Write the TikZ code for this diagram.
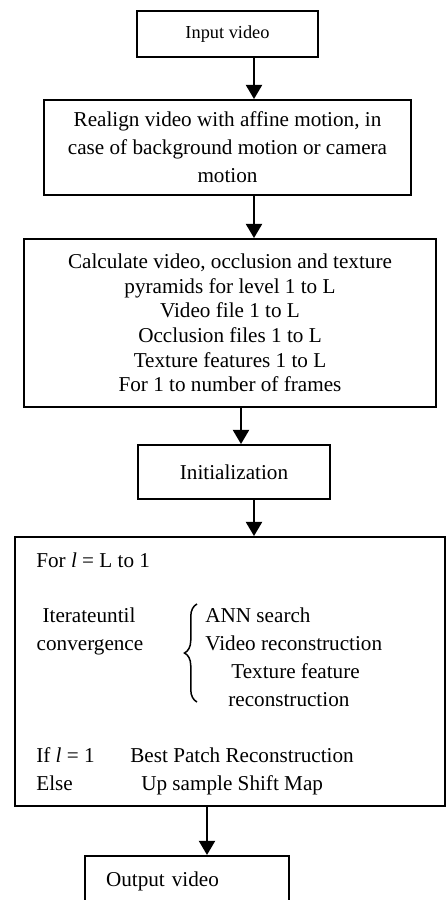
\documentclass[tikz,border=0pt]{standalone}
\usepackage{fontspec}
\setmainfont{Liberation Serif}
\usetikzlibrary{positioning, arrows.meta, decorations.pathreplacing}

\begin{document}
\begin{tikzpicture}[
    x=0.6pt, y=-0.6pt,
    box/.style={rectangle, draw, line width=1.1pt, align=center, font=\fontsize{12.7}{14.8}\selectfont, inner sep=2pt},
    arr/.style={-{Triangle[length=8.5pt, width=9.5pt]}, line width=1.6pt},
    txt/.style={anchor=base west, inner sep=0pt, font=\fontsize{12.7}{14.8}\selectfont},
    brc/.style={decorate, decoration={brace, amplitude=7.5pt}, line width=0.9pt},
  ]
    \useasboundingbox (0,0) rectangle (446,900);

    \node[box, font=\fontsize{11}{13}\selectfont, minimum width=108.6pt, minimum height=27.6pt] (input) at (227.5,34) {Input video};
    \node[box, font=\fontsize{12.7}{16.8}\selectfont, minimum width=220.2pt, minimum height=57pt] (realign) at (227.5,147.5) {Realign video with affine motion, in\\case of background motion or camera\\motion};
    \node[box, minimum width=247.2pt, minimum height=100.8pt] (pyr) at (230,323) {Calculate video, occlusion and texture\\pyramids for level 1 to L\\Video file 1 to L\\Occlusion files 1 to L\\Texture features 1 to L\\For 1 to number of frames};
    \node[box, minimum width=115.2pt, minimum height=32.4pt] (init) at (234,472) {Initialization};
    \node[box, minimum width=258pt, minimum height=161.4pt] (loop) at (230,671.5) {};
    \node[box, anchor=north, minimum height=30pt, text width=97.2pt, inner xsep=12.6pt, align=left] (output) at (187,855) {Output video};

    % inside the loop box
    \node[txt] (forl) at (36,567) {For \textit{l} = L to 1};
    \node[txt, anchor=base] (iter) at (89,622) {Iterateuntil};
    \node[txt, anchor=base] (conv) at (90,650) {convergence};
    \draw[brc] (197,702) -- (197,604);
    \node[txt] (ann) at (205,622) {ANN search};
    \node[txt] (vrec) at (205,650) {Video reconstruction};
    \node[txt] (tex) at (231,678) {Texture feature};
    \node[txt] (trec) at (228,706) {reconstruction};
    \node[txt] (ifl) at (36,762) {If \textit{l} = 1};
    \node[txt] (best) at (130,762) {Best Patch Reconstruction};
    \node[txt] (else) at (36,790) {Else};
    \node[txt] (up) at (141,790) {Up sample Shift Map};

    \coordinate (xa) at (254,0);
    \coordinate (xb) at (241,0);
    \coordinate (xc) at (207,0);
    \draw[arr] (input.south -| xa) -- (realign.north -| xa);
    \draw[arr] (realign.south -| xa) -- (pyr.north -| xa);
    \draw[arr] (pyr.south -| xb) -- (init.north -| xb);
    \draw[arr] (init.south -| xa) -- (loop.north -| xa);
    \draw[arr] (loop.south -| xc) -- (output.north -| xc);
  \end{tikzpicture}
\end{document}
